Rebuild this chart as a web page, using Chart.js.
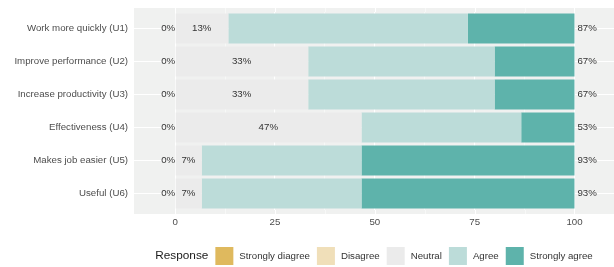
<!DOCTYPE html>
<html>
<head>
<meta charset="utf-8">
<script src="https://cdn.jsdelivr.net/npm/chart.js@4/dist/chart.umd.min.js"></script>
<style>
  html, body { margin: 0; padding: 0; background: #fff; }
  #wrap { width: 614px; height: 267px; }
</style>
</head>
<body>
<div id="wrap"><canvas id="likertChart" width="614" height="267"></canvas></div>
<script>
// Items (top to bottom) and response levels
const items = ['Work more quickly (U1)', 'Improve performance (U2)', 'Increase productivity (U3)',
               'Effectiveness (U4)', 'Makes job easier (U5)', 'Useful (U6)'];
const responses = ['Strongly diagree', 'Disagree', 'Neutral', 'Agree', 'Strongly agree'];
const responseColors = ['#dfb95e', '#f0dfb9', '#ebebeb', '#bcdcd9', '#5eb3ab'];

// Percent of answers per item
const stronglyDisagree = [0, 0, 0, 0, 0, 0];
const disagree = [0, 0, 0, 0, 0, 0];
const neutral = [13.33, 33.33, 33.33, 46.67, 6.67, 6.67];
const agree = [60, 46.67, 46.67, 40, 40, 40];
const stronglyAgree = [26.67, 20, 20, 13.33, 53.33, 53.33];

const xTicks = [0, 12.5, 25, 37.5, 50, 62.5, 75, 87.5, 100];
const xMajor = [0, 25, 50, 75, 100];

const seriesData = [stronglyDisagree, disagree, neutral, agree, stronglyAgree];
const FONT = 'Liberation Sans, Arial, Helvetica, sans-serif';
const PANEL_BG = '#f0f1f0';
const EXTRA = 4; // panel extends a bit past the first/last bar slot

// Panel background (and the strips above/below the category range)
const panelPlugin = {
    id: 'panel',
    beforeDraw(chart) {
        const { ctx, chartArea: a, scales: { x } } = chart;
        ctx.save();
        ctx.fillStyle = PANEL_BG;
        ctx.fillRect(a.left, a.top - EXTRA, a.right - a.left, a.bottom - a.top + 2 * EXTRA);
        ctx.strokeStyle = '#ffffff';
        xTicks.forEach(v => {
            const px = Math.round(x.getPixelForValue(v)) + 0.5;
            ctx.lineWidth = xMajor.includes(v) ? 1.1 : 0.5;
            ctx.beginPath();
            ctx.moveTo(px, a.top - EXTRA); ctx.lineTo(px, a.top);
            ctx.moveTo(px, a.bottom); ctx.lineTo(px, a.bottom + EXTRA);
            ctx.stroke();
        });
        ctx.restore();
    }
};

// Percent labels: left (disagree), middle (neutral), right (agree)
const labelPlugin = {
    id: 'pctLabels',
    afterDatasetsDraw(chart) {
        const { ctx, scales: { x, y } } = chart;
        ctx.save();
        ctx.font = '9.7px ' + FONT;
        ctx.fillStyle = '#333333';
        ctx.textBaseline = 'middle';
        items.forEach((item, i) => {
            const py = y.getPixelForValue(i);
            const low = stronglyDisagree[i] + disagree[i];
            const high = agree[i] + stronglyAgree[i];
            ctx.textAlign = 'right';
            ctx.fillText(Math.round(low) + '%', x.getPixelForValue(0), py);
            ctx.textAlign = 'center';
            ctx.fillText(Math.round(neutral[i]) + '%', x.getPixelForValue(low + neutral[i] / 2), py);
            ctx.textAlign = 'left';
            ctx.fillText(Math.round(high) + '%', x.getPixelForValue(100) + 3, py);
        });
        ctx.restore();
    }
};

// ggplot-style legend with the title on the left
const legendPlugin = {
    id: 'sideLegend',
    afterDraw(chart) {
        const { ctx, chartArea: a } = chart;
        const title = 'Response';
        const box = 18, cy = 256;
        ctx.save();
        ctx.font = '11.8px ' + FONT;
        const titleW = ctx.measureText(title).width;
        ctx.font = '9.7px ' + FONT;
        const widths = responses.map(r => ctx.measureText(r).width);
        let total = titleW + 7;
        widths.forEach((w, i) => { total += box + 6 + w + (i < widths.length - 1 ? 7 : 0); });
        let cx = (a.left + a.right) / 2 - total / 2;
        ctx.textBaseline = 'middle';
        ctx.textAlign = 'left';
        ctx.font = '11.8px ' + FONT;
        ctx.fillStyle = '#1a1a1a';
        ctx.fillText(title, cx, cy);
        cx += titleW + 7;
        ctx.font = '9.7px ' + FONT;
        responses.forEach((r, i) => {
            ctx.fillStyle = responseColors[i];
            ctx.fillRect(cx, cy - box / 2, box, box);
            cx += box + 6;
            ctx.fillStyle = '#333333';
            ctx.fillText(r, cx, cy);
            cx += widths[i] + 7;
        });
        ctx.restore();
    }
};

const ctx = document.getElementById('likertChart').getContext('2d');
const likertChart = new Chart(ctx, {
    type: 'bar',
    data: {
        labels: items,
        datasets: responses.map((r, i) => ({
            label: r,
            data: seriesData[i],
            backgroundColor: responseColors[i],
            borderWidth: 0,
            categoryPercentage: 1,
            barPercentage: 0.91
        }))
    },
    options: {
        indexAxis: 'y',
        responsive: false,
        animation: false,
        layout: { padding: { top: 8 + EXTRA, right: 0, left: 0, bottom: 0 } },
        scales: {
            x: {
                type: 'linear',
                stacked: true,
                min: -10.3,
                max: 109.9,
                afterBuildTicks: scale => { scale.ticks = xTicks.map(v => ({ value: v })); },
                afterFit: scale => { scale.height = 53 + EXTRA; },
                ticks: {
                    autoSkip: false,
                    maxRotation: 0,
                    padding: 3 + EXTRA,
                    color: '#4d4d4d',
                    font: { family: FONT, size: 9.7 },
                    callback: v => xMajor.includes(v) ? String(v) : ''
                },
                grid: {
                    color: '#ffffff',
                    drawTicks: false,
                    lineWidth: c => (c.tick && xMajor.includes(c.tick.value)) ? 1.1 : 0.5
                },
                border: { display: false }
            },
            y: {
                stacked: true,
                afterFit: scale => { scale.width = 134; },
                ticks: {
                    padding: 6,
                    color: '#4d4d4d',
                    font: { family: FONT, size: 9.7 }
                },
                grid: { color: '#ffffff', offset: false, drawTicks: false, lineWidth: 1.1 },
                border: { display: false }
            }
        },
        plugins: {
            legend: { display: false },
            tooltip: { enabled: false }
        }
    },
    plugins: [panelPlugin, labelPlugin, legendPlugin]
});
</script>
</body>
</html>
